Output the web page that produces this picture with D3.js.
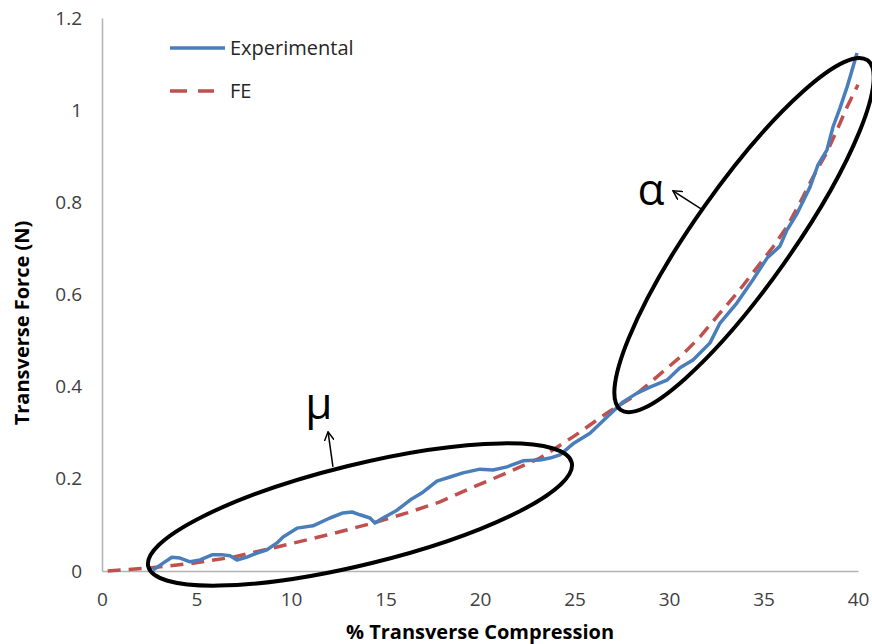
<!doctype html>
<html lang="en">
<head>
<meta charset="UTF-8">
<title>Transverse Force</title>
<script src="https://cdn.jsdelivr.net/npm/d3@7"></script>
<style>
  body { margin: 0; background: #fff; }
  text { font-family: "Open Sans", sans-serif; }
</style>
</head>
<body>
<div class="canvas"></div>
<script>
  // % transverse compression vs transverse force (N)
  const expX = [2.70, 3.23, 3.70, 4.13, 4.66, 5.19, 5.82, 6.40, 6.77, 7.14, 7.67, 8.20, 8.73, 9.26, 9.58,
    10.32, 11.16, 12.06, 12.75, 13.23, 13.65, 14.18, 14.44, 14.87, 15.61, 16.30, 16.98, 17.72, 18.41,
    19.10, 20.00, 20.69, 21.43, 22.28, 23.17, 23.70, 24.23, 24.92, 25.82, 26.72, 27.57, 28.31, 28.99,
    29.89, 30.58, 31.27, 32.17, 32.70, 33.60, 34.44, 35.19, 35.87, 36.24, 36.77, 37.46, 37.88, 38.36,
    38.68, 39.05, 39.42, 39.58, 39.95];
  const expY = [0.002, 0.017, 0.030, 0.028, 0.020, 0.024, 0.035, 0.035, 0.033, 0.024, 0.030, 0.039, 0.046,
    0.061, 0.074, 0.093, 0.098, 0.115, 0.126, 0.128, 0.122, 0.115, 0.104, 0.115, 0.132, 0.154, 0.171,
    0.195, 0.204, 0.213, 0.221, 0.219, 0.226, 0.239, 0.241, 0.245, 0.252, 0.276, 0.299, 0.334, 0.367,
    0.386, 0.399, 0.414, 0.441, 0.458, 0.495, 0.538, 0.582, 0.632, 0.679, 0.705, 0.740, 0.775, 0.833,
    0.881, 0.914, 0.964, 1.005, 1.050, 1.072, 1.124];

  const feX = [0.3, 2.54, 4.81, 6.93, 9.26, 11.90, 14.34, 16.14, 17.88, 19.63, 21.43, 23.17, 24.92, 26.72,
    28.10, 29.15, 30.58, 31.64, 32.70, 33.60, 34.44, 35.50, 36.24, 36.93, 37.62, 38.36, 38.89, 39.42, 40.0];
  const feY = [0.0, 0.0065, 0.017, 0.030, 0.052, 0.078, 0.104, 0.126, 0.150, 0.182, 0.213, 0.245, 0.291,
    0.343, 0.378, 0.414, 0.464, 0.508, 0.560, 0.603, 0.647, 0.703, 0.747, 0.799, 0.855, 0.909, 0.957,
    1.007, 1.055];

  const xTicks = [0, 5, 10, 15, 20, 25, 30, 35, 40];
  const yTicks = [0, 0.2, 0.4, 0.6, 0.8, 1, 1.2];

  const seriesNames = ['Experimental', 'FE'];

  // annotation anchors, in data units
  const labels = ['μ', 'α'];
  const ringCx = [13.65, 33.97];
  const ringCy = [0.1226, 0.729];
  const labelX = [11.48, 29.05];
  const labelY = [0.349, 0.827];
  const arrowFromX = [12.22, 31.80];
  const arrowFromY = [0.226, 0.783];
  const arrowToX = [11.96, 30.21];
  const arrowToY = [0.302, 0.825];

  const width = 872;
  const height = 644;
  const svg = d3.select('.canvas').append('svg')
    .attr('width', width)
    .attr('height', height);

  const x = d3.scaleLinear().domain([0, 40]).range([102, 858]);
  const y = d3.scaleLinear().domain([0, 1.2]).range([571, 18]);

  // axes
  const xAxis = d3.axisBottom(x).tickValues(xTicks).tickSize(0).tickPadding(22);
  const yAxis = d3.axisLeft(y).tickValues(yTicks).tickSize(0).tickPadding(20)
    .tickFormat(d => d3.format('')(+d.toFixed(1)));

  const xAxisG = svg.append('g').attr('transform', `translate(0, ${y(0)})`).call(xAxis);
  const yAxisG = svg.append('g').attr('transform', `translate(${x(0)}, 0)`).call(yAxis);

  [xAxisG, yAxisG].forEach(g => {
    g.select('.domain').attr('stroke', '#b3b3b3').attr('stroke-width', 1.5);
    g.selectAll('text').style('font-size', '19px').attr('fill', '#404040');
  });

  svg.append('text')
    .attr('x', (x(0) + x(40)) / 2)
    .attr('y', 639)
    .attr('text-anchor', 'middle')
    .style('font-size', '20px')
    .style('font-weight', 'bold')
    .text('% Transverse Compression');

  svg.append('text')
    .attr('transform', 'translate(29, 323) rotate(-90)')
    .attr('text-anchor', 'middle')
    .style('font-size', '20px')
    .style('font-weight', 'bold')
    .text('Transverse Force (N)');

  // lines
  const line = d3.line().x(d => x(d[0])).y(d => y(d[1]));

  svg.append('path')
    .datum(d3.zip(feX, feY))
    .attr('fill', 'none')
    .attr('stroke', '#c0504d')
    .attr('stroke-width', 3.5)
    .attr('stroke-dasharray', '13,8')
    .attr('d', line);

  svg.append('path')
    .datum(d3.zip(expX, expY))
    .attr('fill', 'none')
    .attr('stroke', '#4a7ebb')
    .attr('stroke-width', 3.5)
    .attr('stroke-linejoin', 'round')
    .attr('d', line);

  // legend
  const legend = svg.append('g');
  legend.append('line')
    .attr('x1', 170).attr('x2', 225).attr('y1', 48).attr('y2', 48)
    .attr('stroke', '#4a7ebb').attr('stroke-width', 3.5);
  legend.append('line')
    .attr('x1', 170).attr('x2', 214).attr('y1', 91).attr('y2', 91)
    .attr('stroke', '#c0504d').attr('stroke-width', 3.5).attr('stroke-dasharray', '17,11');
  legend.selectAll('text')
    .data(seriesNames)
    .enter()
    .append('text')
    .attr('x', 230)
    .attr('y', (d, i) => 48 + i * 43)
    .attr('dy', '0.35em')
    .style('font-size', '20px')
    .attr('fill', '#262626')
    .text(d => d);

  // ellipses and arrows
  const rings = [
    { rx: 218, ry: 50, rot: -13.8 },
    { rx: 214, ry: 49, rot: -54.8 }
  ];

  svg.append('defs').append('marker')
    .attr('id', 'head')
    .attr('viewBox', '0 0 10 10')
    .attr('refX', 9).attr('refY', 5)
    .attr('markerWidth', 10).attr('markerHeight', 10)
    .attr('markerUnits', 'userSpaceOnUse')
    .attr('orient', 'auto')
    .append('path')
    .attr('d', 'M0,0 L9,5 L0,10')
    .attr('fill', 'none')
    .attr('stroke', '#000')
    .attr('stroke-width', 1.5);

  rings.forEach((r, i) => {
    svg.append('ellipse')
      .attr('transform', `translate(${x(ringCx[i])}, ${y(ringCy[i])}) rotate(${r.rot})`)
      .attr('rx', r.rx)
      .attr('ry', r.ry)
      .attr('fill', 'none')
      .attr('stroke', '#000')
      .attr('stroke-width', 4);

    svg.append('line')
      .attr('x1', x(arrowFromX[i])).attr('y1', y(arrowFromY[i]))
      .attr('x2', x(arrowToX[i])).attr('y2', y(arrowToY[i]))
      .attr('stroke', '#000')
      .attr('stroke-width', 1.5)
      .attr('marker-end', 'url(#head)');

    svg.append('text')
      .attr('x', x(labelX[i]))
      .attr('y', y(labelY[i]))
      .attr('text-anchor', 'middle')
      .attr('dy', i === 0 ? '0.2em' : '0.35em')
      .style('font-size', '44px')
      .text(labels[i]);
  });
</script>
</body>
</html>
